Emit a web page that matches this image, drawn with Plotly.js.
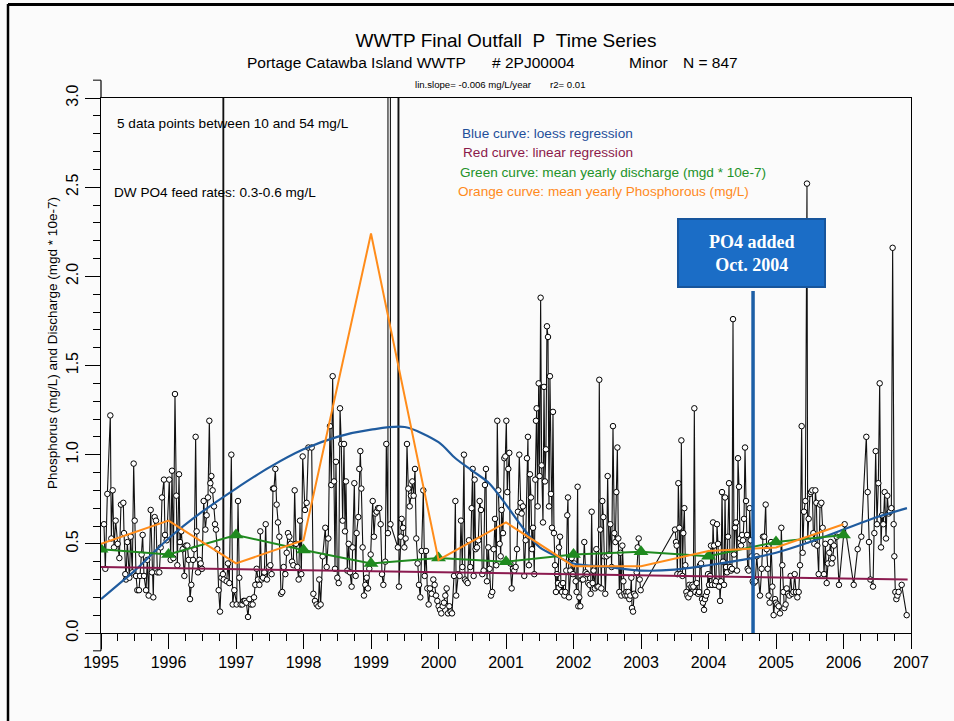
<!DOCTYPE html>
<html>
<head>
<meta charset="utf-8">
<script src="https://cdn.plot.ly/plotly-3.0.1.min.js"></script>
<style>html,body{margin:0;padding:0;background:#fbfbfb;}#chart{width:954px;height:721px;}</style>
</head>
<body>
<div id="chart"></div>
<script>
// ---- Data ----
// Sample dates (decimal years) of final outfall P samples
const sampleYear = [
1995.044,1995.064,1995.094,1995.138,1995.153,1995.173,1995.193,1995.217,1995.247,1995.272,
1995.296,1995.331,1995.341,1995.360,1995.370,1995.390,1995.420,1995.440,1995.464,1995.484,
1995.499,1995.519,1995.538,1995.563,1995.578,1995.602,1995.617,1995.637,1995.667,1995.686,
1995.706,1995.736,1995.756,1995.775,1995.795,1995.815,1995.835,1995.864,1995.884,1995.904,
1995.933,1995.948,1995.973,1996.012,1996.032,1996.052,1996.072,1996.096,1996.116,1996.131,
1996.156,1996.170,1996.190,1996.210,1996.235,1996.259,1996.279,1996.299,1996.319,1996.338,
1996.363,1996.383,1996.402,1996.417,1996.437,1996.457,1996.477,1996.496,1996.521,1996.546,
1996.565,1996.585,1996.605,1996.620,1996.635,1996.654,1996.674,1996.689,1996.704,1996.723,
1996.743,1996.763,1996.783,1996.806,1996.812,1996.819,1996.862,1996.881,1996.901,1996.931,
1996.951,1996.975,1997.010,1997.030,1997.049,1997.069,1997.094,1997.114,1997.133,1997.153,
1997.178,1997.198,1997.222,1997.247,1997.267,1997.286,1997.306,1997.326,1997.346,1997.360,
1997.380,1997.400,1997.420,1997.440,1997.459,1997.484,1997.509,1997.528,1997.548,1997.563,
1997.583,1997.602,1997.622,1997.642,1997.667,1997.686,1997.706,1997.731,1997.751,1997.770,
1997.790,1997.810,1997.830,1997.849,1997.869,1997.889,1997.909,1997.928,1997.948,1997.968,
1997.988,1998.022,1998.047,1998.072,
1998.121,1998.146,1998.170,1998.195,1998.220,1998.234,1998.254,1998.284,1998.323,1998.343,
1998.368,1998.392,1998.412,1998.432,1998.452,1998.467,1998.481,1998.501,1998.521,1998.541,
1998.560,1998.580,1998.600,1998.615,1998.629,1998.649,1998.669,1998.689,1998.713,1998.728,
1998.753,1998.773,1998.787,1998.812,1998.827,1998.842,1998.857,1998.876,1998.896,1998.916,
1998.936,1998.955,1998.975,1998.995,1999.025,1999.044,1999.064,1999.084,1999.104,1999.123,
1999.143,1999.163,1999.183,1999.212,1999.227,1999.251,1999.258,1999.266,1999.281,1999.288,
1999.398,1999.410,1999.414,1999.439,1999.454,1999.474,1999.494,1999.513,1999.533,1999.553,
1999.573,1999.592,1999.612,1999.632,1999.652,1999.671,1999.691,1999.711,1999.731,1999.750,
1999.775,1999.795,1999.815,1999.834,1999.854,1999.874,1999.899,1999.923,1999.943,1999.963,
1999.983,2000.002,2000.022,2000.042,2000.062,2000.081,2000.101,2000.121,2000.141,2000.160,
2000.180,2000.200,2000.230,2000.250,2000.262,
2000.293,2000.313,2000.333,2000.353,2000.377,2000.392,2000.412,2000.432,2000.451,2000.471,
2000.491,2000.506,2000.521,2000.535,2000.550,2000.570,2000.590,2000.609,2000.629,2000.649,
2000.669,2000.688,2000.703,2000.718,2000.738,2000.758,2000.777,2000.797,2000.817,2000.837,
2000.856,2000.871,2000.886,2000.906,2000.921,2000.935,2000.955,2000.975,2000.990,2001.005,
2001.019,2001.034,2001.049,2001.064,2001.084,2001.103,2001.123,2001.143,2001.163,2001.177,
2001.197,2001.217,2001.232,2001.251,2001.271,2001.291,2001.311,2001.325,2001.340,2001.355,
2001.370,2001.385,2001.400,2001.419,2001.434,2001.444,2001.454,2001.469,2001.484,2001.498,
2001.513,2001.528,2001.548,2001.563,2001.577,2001.592,2001.607,2001.622,2001.637,2001.651,
2001.666,2001.681,2001.696,2001.711,2001.726,2001.740,2001.755,2001.770,2001.785,2001.800,
2001.814,2001.829,2001.844,2001.864,2001.879,2001.893,2001.908,2001.918,2001.933,2001.953,
2001.972,2001.992,2002.012,2002.032,2002.046,2002.061,2002.071,2002.086,2002.101,2002.121,
2002.140,2002.160,2002.180,2002.200,2002.219,2002.239,2002.254,2002.269,2002.284,2002.298,
2002.318,2002.338,2002.353,2002.368,2002.382,2002.397,2002.412,2002.427,2002.442,2002.456,
2002.471,2002.491,2002.506,2002.526,2002.545,2002.565,2002.585,2002.605,
2002.620,2002.635,2002.650,2002.664,2002.679,2002.694,2002.709,2002.724,2002.739,2002.753,
2002.768,2002.783,2002.798,2002.813,2002.827,2002.842,2002.857,2002.867,2002.882,2002.897,
2002.916,2002.936,2002.951,2002.966,2002.981,2002.995,2003.504,2003.519,2003.529,2003.539,
2003.553,2003.568,2003.583,2003.598,2003.613,2003.627,2003.642,2003.657,2003.672,2003.687,
2003.702,2003.716,2003.731,2003.746,2003.761,2003.776,2003.790,2003.805,2003.825,2003.845,
2003.860,2003.874,2003.889,2003.904,2003.919,2003.934,2003.948,2003.963,2003.978,2003.993,
2004.008,2004.023,2004.037,2004.052,2004.067,2004.082,2004.097,2004.111,2004.126,2004.141,
2004.156,2004.171,2004.185,2004.200,2004.215,2004.230,2004.245,2004.260,2004.274,2004.289,
2004.304,2004.319,2004.334,2004.348,2004.363,2004.378,2004.393,2004.408,2004.422,2004.437,
2004.452,2004.467,2004.482,2004.497,2004.511,2004.526,2004.541,2004.556,2004.571,2004.580,
2004.595,2004.610,2004.625,2004.640,2004.655,2004.669,2004.694,2004.714,
2004.763,2004.788,2004.807,2004.827,2004.847,2004.862,2004.877,2004.891,2004.906,2004.926,
2004.946,2004.965,2004.985,2005.000,2005.020,2005.040,2005.059,2005.079,2005.094,2005.109,
2005.123,2005.143,2005.158,2005.178,2005.198,2005.217,2005.237,2005.257,2005.277,2005.296,
2005.316,2005.336,2005.356,2005.380,2005.395,2005.415,2005.435,2005.459,2005.469,2005.484,
2005.504,2005.519,2005.538,2005.553,2005.568,2005.583,2005.598,2005.612,2005.632,2005.652,
2005.672,2005.691,2005.711,2005.731,2005.751,2005.770,2005.790,2005.810,2005.825,2005.840,
2005.859,2005.899,2005.933,2006.017,2006.151,2006.210,2006.264,2006.338,2006.358,2006.378,
2006.398,2006.437,2006.457,2006.477,2006.496,2006.516,2006.536,2006.556,2006.570,2006.590,
2006.610,2006.630,2006.649,2006.669,2006.689,2006.709,2006.728,2006.743,2006.753,2006.768,
2006.783,2006.798,2006.817,2006.862,2006.936
];
// Phosphorus concentration (mg/L), same order as sampleYear
const phosphorus = [
0.61,0.36,0.78,1.22,0.53,0.80,0.48,0.63,0.50,0.42,
0.72,0.73,0.56,0.33,0.30,0.51,0.31,0.54,0.34,0.95,
0.63,0.32,0.24,0.24,0.32,0.44,0.55,0.32,0.24,0.41,
0.21,0.69,0.34,0.20,0.65,0.63,0.34,0.34,0.48,0.76,
0.86,0.55,0.52,0.86,0.41,0.91,0.42,1.34,0.77,0.38,
0.89,0.51,0.57,0.47,0.32,0.49,0.49,0.41,0.19,0.27,
0.41,0.47,1.10,0.57,0.34,0.41,0.39,0.36,0.74,0.58,
0.66,0.76,1.19,0.84,0.88,0.80,0.71,0.61,0.58,0.47,
0.24,0.12,0.31,0.33,18.0,0.30,0.29,0.39,0.28,1.00,
0.16,0.24,0.16,0.74,0.31,0.16,0.16,0.18,0.18,0.17,
0.09,0.19,0.16,0.16,0.20,0.27,0.36,0.30,0.27,0.57,
0.30,0.31,0.34,0.61,0.30,0.37,0.38,0.33,0.81,0.81,
0.92,0.72,0.62,0.54,0.22,0.23,0.37,0.33,0.45,0.56,
0.54,0.50,0.40,0.38,0.80,0.50,0.37,0.30,0.63,0.33,
0.99,0.69,0.73,1.04,
1.04,0.22,0.18,0.16,0.15,0.30,0.16,0.43,0.59,0.37,
0.53,1.16,0.83,1.44,0.85,0.36,0.96,0.31,0.28,1.26,
1.06,0.63,1.06,0.57,0.85,0.35,0.50,0.34,0.26,0.48,
0.84,0.32,0.56,0.65,0.92,1.02,0.81,0.48,0.21,0.27,
0.31,0.25,0.36,0.44,0.74,0.54,0.67,0.68,0.70,0.70,
0.61,0.33,0.27,0.40,1.06,0.56,54.0,31.0,22.0,0.61,
0.48,10.6,0.26,0.54,0.64,0.59,0.48,0.53,1.06,0.81,
0.71,0.77,0.85,0.77,0.92,0.53,0.39,0.27,0.20,0.46,
0.80,0.32,0.46,0.25,0.16,0.25,0.22,0.30,0.27,0.21,
0.18,0.15,0.13,0.11,0.15,0.17,0.21,0.25,0.11,0.15,
0.12,0.11,0.32,0.74,0.21,
0.33,0.32,0.63,0.37,1.00,0.30,0.29,0.28,0.52,0.37,
0.70,0.92,0.32,0.86,0.47,0.48,0.52,0.74,0.69,0.33,
0.35,0.83,0.92,0.29,0.48,0.36,0.21,0.23,0.47,0.64,
0.38,1.19,0.80,0.50,0.43,0.69,0.56,0.98,0.99,1.19,
0.79,0.92,1.01,0.39,0.25,0.36,0.35,0.37,0.47,0.68,
1.00,0.73,0.67,0.71,0.32,0.52,0.98,1.10,0.38,0.89,
0.76,0.47,0.59,0.33,0.86,1.19,1.26,0.71,1.40,0.88,
1.88,0.94,0.62,1.38,0.85,1.03,1.72,1.66,0.71,1.44,
0.78,0.59,1.24,0.56,0.38,0.23,0.33,0.28,0.48,0.54,
0.27,0.23,0.28,0.21,0.23,0.35,0.66,0.76,0.20,0.35,
0.42,0.33,0.39,0.29,0.23,0.82,0.15,0.20,0.15,0.30,
0.30,0.51,0.34,0.33,0.28,0.27,0.22,0.68,0.28,0.35,
0.25,0.47,0.26,0.26,1.42,0.58,0.25,0.74,0.65,0.43,
0.22,0.43,0.88,0.44,0.61,0.37,1.16,0.56,
0.51,0.79,1.04,0.53,0.23,0.45,0.21,0.49,0.29,0.22,
0.21,0.23,0.21,0.23,0.19,0.21,0.31,0.14,0.12,0.22,
0.21,0.34,0.48,0.53,0.30,0.24,0.58,0.51,0.49,0.33,
0.84,0.59,0.33,1.08,0.32,0.56,0.70,0.38,0.23,0.21,
0.20,0.27,0.22,0.26,0.27,0.26,1.26,0.23,0.28,0.22,
0.23,0.38,0.39,0.19,0.17,0.13,0.19,0.21,0.23,0.33,
0.27,0.32,0.49,0.27,0.62,0.49,0.27,0.29,0.61,0.50,
0.26,0.18,0.29,0.79,0.40,0.27,0.76,0.37,0.34,0.54,
0.84,0.37,0.35,0.36,1.76,0.44,0.59,0.62,0.35,0.98,
0.82,0.53,0.49,0.55,0.52,0.64,1.04,0.74,0.55,0.36,
0.35,0.70,0.52,0.43,0.29,0.28,0.29,0.43,
0.21,0.36,0.54,0.54,0.72,0.47,0.36,0.21,0.17,0.51,
0.26,0.10,0.19,0.17,0.16,0.15,0.11,0.59,0.38,0.23,
0.14,0.16,0.25,0.22,0.21,0.32,0.22,0.23,0.33,0.23,
0.20,0.23,0.38,1.16,0.45,0.68,0.74,2.52,0.52,0.64,
0.78,0.79,0.80,0.56,0.50,0.80,0.73,0.49,0.33,0.72,
0.73,0.59,0.33,0.50,0.28,0.39,0.45,0.51,0.39,0.42,
0.49,0.54,0.27,0.61,0.27,0.47,0.54,1.10,0.79,0.51,
0.30,0.26,0.56,1.02,0.61,0.84,1.40,0.48,0.66,0.61,
0.79,0.53,0.77,0.67,0.68,0.70,2.16,0.61,0.43,0.23,
0.19,0.21,0.23,0.27,0.10
];

// Yearly means
const meanYears = [1995,1996,1997,1998,1999,2000,2001,2002,2003,2004,2005,2006];
const meanPhosphorus = [0.50,0.63,0.39,0.52,2.24,0.41,0.62,0.375,0.375,0.46,0.48,0.61];
const meanDischarge = [0.47,0.44,0.55,0.465,0.39,0.42,0.40,0.44,0.455,0.43,0.51,0.55];

// Loess regression curve
const loessYears = [1995.0,1995.25,1995.5,1995.75,1996.0,1996.5,1997.0,1997.5,1998.0,1998.5,1999.0,1999.5,
  2000.0,2000.25,2000.5,2000.75,2001.0,2001.25,2001.5,2001.75,2002.0,2002.5,2003.0,2003.5,2004.0,2004.5,
  2005.0,2005.5,2006.0,2006.5,2006.94];
const loessValues = [0.19,0.27,0.35,0.44,0.53,0.68,0.81,0.93,1.03,1.10,1.14,1.155,
  1.07,0.98,0.91,0.84,0.72,0.59,0.48,0.43,0.39,0.37,0.35,0.355,0.38,0.41,
  0.45,0.51,0.58,0.65,0.70];

// Linear regression line end points
const linYears = [1995.0, 2006.95];
const linValues = [0.37, 0.30];

// PO4 addition date
const po4AddedYear = 2004.66;

const yTickVals = [0,0.5,1,1.5,2,2.5,3];

// ---- Traces ----
const traces = [
  {x: sampleYear, y: phosphorus, type:'scatter', mode:'lines+markers',
   line:{color:'#111', width:1.1},
   marker:{symbol:'circle', size:5.5, color:'#ffffff', line:{color:'#000', width:1}},
   cliponaxis:true, hoverinfo:'x+y'},
  {x: loessYears, y: loessValues, type:'scatter', mode:'lines',
   line:{color:'#1f5b9e', width:2.2, shape:'spline', smoothing:0.8}},
  {x: linYears, y: linValues, type:'scatter', mode:'lines',
   line:{color:'#8b1a4f', width:2}},
  {x: meanYears, y: meanDischarge, type:'scatter', mode:'lines+markers',
   line:{color:'#1f8a1f', width:2},
   marker:{symbol:'triangle-up', size:13, color:'#1f8a1f'}},
  {x: meanYears, y: meanPhosphorus, type:'scatter', mode:'lines',
   line:{color:'#ff8c1a', width:2}}
];

// helpers to convert pixel positions of the reference into paper fractions
const L = 101, R = 911, T = 98, B = 633;
const px = v => (v - L) / (R - L);
const py = v => (B - v) / (B - T);

const fontFam = 'Liberation Sans, Arial, Helvetica, sans-serif';
function note(text, x, y, size, color, anchor) {
  return {text: text, xref:'paper', yref:'paper', x: px(x), y: py(y),
    xanchor: anchor || 'left', yanchor:'middle', showarrow:false,
    font:{family:fontFam, size:size, color:color || '#000'}};
}

const layout = {
  width: 954, height: 721,
  margin: {l: L, r: 954 - R, t: T, b: 721 - B, pad: 0},
  paper_bgcolor:'#fbfbfb', plot_bgcolor:'#fbfbfb',
  showlegend:false,
  font:{family:fontFam, color:'#000'},
  title:{text:'WWTP Final Outfall\u00a0\u00a0P\u00a0\u00a0Time Series',
    font:{family:fontFam, size:19, color:'#000'},
    xref:'container', yref:'container', x:506/954, xanchor:'center', y:1-40/721, yanchor:'middle'},
  xaxis:{range:[1995,2007], tick0:1995, dtick:1, tickformat:'d',
    ticks:'outside', ticklen:15, tickwidth:1, tickcolor:'#000',
    showline:true, linecolor:'#000', linewidth:1.2, mirror:true,
    showgrid:false, zeroline:false, tickfont:{size:16, color:'#000'},
    minor:{tick0:1995, dtick:0.25, ticks:'outside', ticklen:7, tickwidth:1, tickcolor:'#000', showgrid:false}},
  yaxis:{range:[0,3], tickvals: yTickVals, tickformat:'.1f', tickangle:-90,
    ticks:'outside', ticklen:15, tickwidth:1, tickcolor:'#000',
    showline:true, linecolor:'#000', linewidth:1.2, mirror:true,
    showgrid:false, zeroline:false, tickfont:{size:16, color:'#000'},
    minor:{tick0:0, dtick:0.1, ticks:'outside', ticklen:7, tickwidth:1, tickcolor:'#000', showgrid:false}},
  shapes:[
    // y axis stubs beyond the box (-0.1 and 3.1)
    {type:'line', xref:'paper', yref:'paper', x0:0, x1:0, y0:-1/30, y1:0, line:{color:'#000', width:1.2}},
    {type:'line', xref:'paper', yref:'paper', x0:0, x1:0, y0:1, y1:1+1/30, line:{color:'#000', width:1.2}},
    {type:'line', xref:'paper', yref:'paper', x0:-8/810, x1:0, y0:-1/30, y1:-1/30, line:{color:'#000', width:1}},
    {type:'line', xref:'paper', yref:'paper', x0:-8/810, x1:0, y0:1+1/30, y1:1+1/30, line:{color:'#000', width:1}},
    // PO4 added marker line
    {type:'line', xref:'x', yref:'paper', x0:po4AddedYear, x1:po4AddedYear, y0:0, y1:py(291),
     line:{color:'#1d5fa6', width:3.5}, layer:'above'},
    // PO4 callout box
    {type:'rect', xref:'paper', yref:'paper', x0:px(678), x1:px(825), y0:py(287), y1:py(219),
     fillcolor:'#1b6dc6', line:{color:'#17559c', width:2}, layer:'above'},
    // slide frame (left and top edges)
    {type:'line', xref:'paper', yref:'paper', x0:px(8), x1:px(8), y0:py(721), y1:py(4), line:{color:'#000', width:2.5}},
    {type:'line', xref:'paper', yref:'paper', x0:px(8), x1:px(954), y0:py(4.5), y1:py(4.5), line:{color:'#000', width:3}}
  ],
  annotations:[
    note('Portage Catawba Island WWTP', 245, 62, 15.5),
    note('# 2PJ00004', 490, 62, 15.5),
    note('Minor', 627, 62, 15.5),
    note('N = 847', 681, 62, 15.5),
    note('lin.slope= -0.006 mg/L/year', 413, 85, 9.6),
    note('r2= 0.01', 548, 85, 9.6),
    note('5 data points between 10 and 54 mg/L', 115, 123, 13.6),
    note('DW PO4 feed rates: 0.3-0.6 mg/L', 112, 192, 13.6),
    note('Blue curve: loess regression', 460, 133, 13.6, '#1f4f9a'),
    note('Red curve: linear regression', 461, 152, 13.6, '#8b1a4a'),
    note('Green curve: mean yearly discharge (mgd * 10e-7)', 458, 172, 13.6, '#23922a'),
    note('Orange curve: mean yearly Phosphorous (mg/L)', 456, 191, 13.6, '#ff8a1c'),
    {text:'<b>PO4 added</b><br><b>Oct. 2004</b>', xref:'paper', yref:'paper',
     x: px(751.5), y: py(253), xanchor:'center', yanchor:'middle', showarrow:false,
     font:{family:'Liberation Serif, DejaVu Serif, serif', size:18, color:'#ffffff'}},
    {text:'Phosphorus (mg/L) and Discharge (mgd * 10e-7)', xref:'paper', yref:'paper',
     x: px(52), y: py(343), xanchor:'center', yanchor:'middle', textangle:-90, showarrow:false,
     font:{family:fontFam, size:13.5, color:'#000'}}
  ]
};

Plotly.newPlot('chart', traces, layout, {displayModeBar:false, staticPlot:true});
</script>
</body>
</html>
